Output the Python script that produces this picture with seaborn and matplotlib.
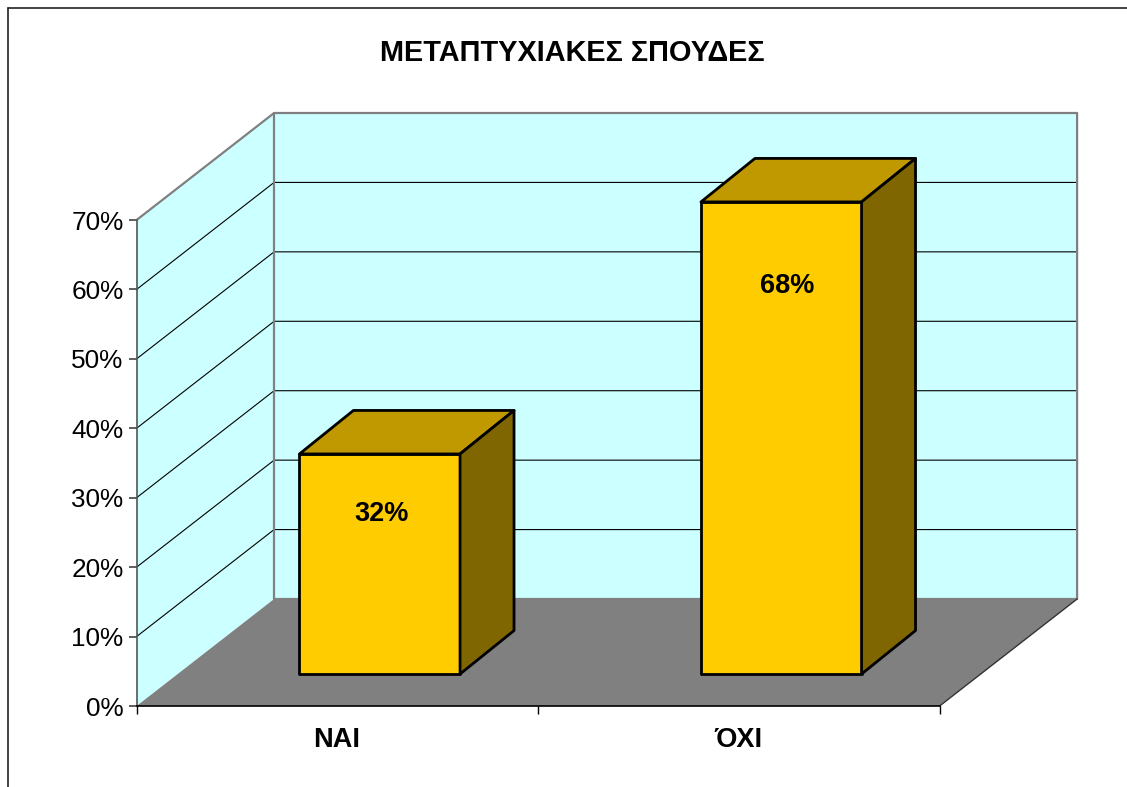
import numpy as np
import pandas as pd
import matplotlib
matplotlib.use("Agg")
import matplotlib.pyplot as plt
from matplotlib.lines import Line2D
from matplotlib.patches import Polygon
from matplotlib.ticker import MultipleLocator, PercentFormatter
import seaborn as sns

# data
categories = ["ΝΑΙ", "ΌΧΙ"]
values = [31.7, 68]
value_labels = ["32%", "68%"]
title = "ΜΕΤΑΠΤΥΧΙΑΚΕΣ ΣΠΟΥΔΕΣ"

sns.set_theme(style="white")
plt.rcParams["font.family"] = ["Liberation Sans", "DejaVu Sans"]

W, H = 1127, 787
fig = plt.figure(figsize=(W / 100, H / 100), dpi=100)
ax = fig.add_axes([136.6 / W, 1 - 706 / H, (940 - 137) / W, (706 - 220) / H])

df = pd.DataFrame({"answer": categories, "share": values})
sns.barplot(data=df, x="answer", y="share", color="#FFCC00", width=0.4, saturation=1,
            edgecolor="black", linewidth=2, ax=ax, zorder=5)

ax.set_xlim(-0.5, 1.5)
ax.set_ylim(0, 70)

# depth of the floor in data units
depth_x = 137.5 / 401.5
depth_y = 107 / (486 / 70)
# bars sit part of the way into the floor, and have their own depth
front = 33 / 107
bar_depth_x = 42 / 107
bar_depth_y = 43.5 / 107

wall_c = "#CCFFFF"
grey = "#808080"
x0, x1 = ax.get_xlim()
y_max = ax.get_ylim()[1]
dx, dy = depth_x, depth_y


def poly(pts, fc, ec="none", lw=0, z=1):
    ax.add_patch(Polygon(pts, closed=True, facecolor=fc, edgecolor=ec, linewidth=lw,
                         zorder=z, clip_on=False, joinstyle="round"))


# walls and floor
poly([(x0, 0), (x0 + dx, dy), (x0 + dx, y_max + dy), (x0, y_max)], wall_c, z=1)
poly([(x0 + dx, dy), (x1 + dx, dy), (x1 + dx, y_max + dy), (x0 + dx, y_max + dy)], wall_c, z=1)
poly([(x0, 0), (x1, 0), (x1 + dx, dy), (x0 + dx, dy)], grey, z=2)

# gridlines on both walls
for t in np.arange(10, 70, 10):
    ax.plot([x0, x0 + dx, x1 + dx], [t, t + dy, t + dy], color="black", lw=0.8,
            zorder=3, clip_on=False)

# wall outline
ax.plot([x0, x0 + dx, x1 + dx, x1 + dx], [y_max, y_max + dy, y_max + dy, dy], color=grey,
        lw=1.6, zorder=3, clip_on=False)
ax.plot([x0 + dx, x0 + dx], [dy, y_max + dy], color=grey, lw=1.6, zorder=3, clip_on=False)
ax.plot([x0 + dx, x1 + dx], [dy, dy], color=grey, lw=1.6, zorder=3, clip_on=False)
ax.plot([x1, x1 + dx], [0, dy], color="#333333", lw=1, zorder=3, clip_on=False)

# shift the bars back onto the floor and add their top and side
label_drop = [8.7, 12.1]
label_shift = [0.004, 0.016]
for bar, label, drop, shift in zip(ax.patches, value_labels, label_drop, label_shift):
    bar.set_x(bar.get_x() + dx * front)
    bar.set_y(dy * front - 0.15)
    bar.set_clip_on(False)
    bar.set_joinstyle("round")
    xa, xb = bar.get_x(), bar.get_x() + bar.get_width()
    ya, yb = bar.get_y(), bar.get_y() + bar.get_height()
    ox, oy = dx * bar_depth_x, dy * bar_depth_y
    poly([(xa, yb), (xb, yb), (xb + ox, yb + oy), (xa + ox, yb + oy)], "#C09900", "black", 2, 5)
    poly([(xb, ya), (xb + ox, ya + oy), (xb + ox, yb + oy), (xb, yb)], "#806600", "black", 2, 5)
    ax.text((xa + xb) / 2 + shift, yb - drop, label, ha="center", va="center", fontsize=19.5,
            fontweight="bold", color="black", zorder=6)

# axes
for s in ["top", "right"]:
    ax.spines[s].set_visible(False)
ax.spines["left"].set_color("#555555")
ax.spines["left"].set_linewidth(1.2)
ax.spines["left"].set_zorder(4)
ax.spines["bottom"].set_color("black")
ax.spines["bottom"].set_linewidth(1.2)
ax.spines["bottom"].set_zorder(4)
ax.yaxis.set_major_locator(MultipleLocator(10))
ax.yaxis.set_major_formatter(PercentFormatter(decimals=0))
ax.tick_params(axis="y", left=True, length=6, width=1.1, color="#333333", labelsize=18.8,
               labelcolor="black", pad=3.5)
ax.set_xticks([-0.5, 0.5, 1.5], labels=[])
ax.tick_params(axis="x", bottom=True, length=6, width=1, color="black")
ax.set_xlabel("")
ax.set_ylabel("")
for i, c in enumerate(categories):
    ax.annotate(c, xy=(i, 0), xycoords="data", xytext=(-0.5, -24.5), textcoords="offset points",
                ha="center", va="center", fontsize=19.5, fontweight="bold", color="black")

# chart frame, only top and left show in the crop
fig.add_artist(Line2D([7.5 / W, 7.5 / W], [0, 1 - 7.5 / H], color="#222222", lw=1.2))
fig.add_artist(Line2D([7.5 / W, 1], [1 - 7.5 / H, 1 - 7.5 / H], color="#222222", lw=1.2))

fig.text(572.5 / W, 1 - 53 / H, title, ha="center", va="center", fontsize=20.8, fontweight="bold",
         color="black")

fig.savefig("out.png", dpi=100)
